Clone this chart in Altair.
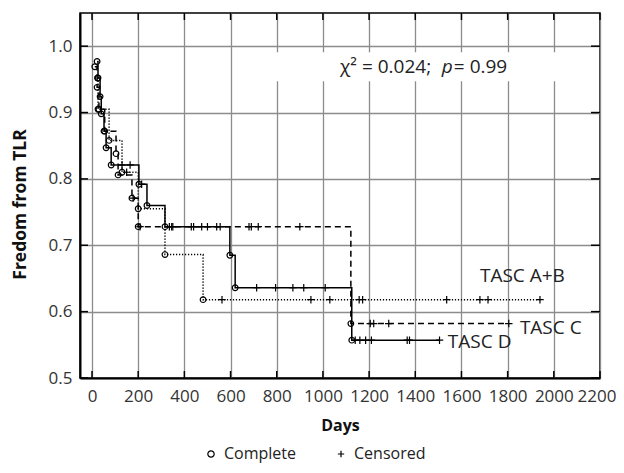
import altair as alt
import pandas as pd

# ---------------- data ----------------
groups = ["TASC A+B", "TASC C", "TASC D"]

ab_event_days = [24, 26, 74, 130, 200, 316, 481]
ab_event_surv = [0.952, 0.905, 0.858, 0.810, 0.755, 0.686, 0.618]
ab_end_day = 1944
ab_cens_days = [150, 563, 948, 1030, 1157, 1172, 1536, 1680, 1715, 1940]

c_event_days = [12, 22, 30, 55, 104, 113, 173, 200, 1121]
c_event_surv = [0.969, 0.938, 0.905, 0.872, 0.838, 0.806, 0.771, 0.728, 0.582]
c_end_day = 1805
c_cens_days = [178, 208, 335, 345, 680, 690, 720, 900, 1205, 1220, 1285, 1805]

d_event_days = [22, 26, 35, 40, 52, 61, 83, 203, 238, 316, 597, 620, 1125]
d_event_surv = [0.977, 0.952, 0.924, 0.898, 0.872, 0.847, 0.821, 0.792, 0.760,
                0.728, 0.685, 0.636, 0.557]
d_end_day = 1505
d_cens_days = [130, 165, 215, 350, 430, 440, 475, 500, 540, 555, 713, 795, 870,
               917, 1010, 1140, 1160, 1185, 1210, 1365, 1375, 1505]

x_ticks = [0, 200, 400, 600, 800, 1000, 1200, 1400, 1600, 1800, 2000, 2200]
y_ticks = [0.5, 0.6, 0.7, 0.8, 0.9, 1.0]

label_text = ["TASC A+B", "TASC C", "TASC D"]
label_day = [1680, 1853, 1541]
label_surv = [0.653, 0.575, 0.555]

ann_text = ["χ² = 0.024;", "= 0.99"]
ann_day = [1074, 1567]
ann_surv = [0.968, 0.968]
ann_italic_text = ["p"]
ann_italic_day = [1515]
ann_italic_surv = [0.968]

# ---------------- build tables ----------------
series = [
    ("TASC A+B", ab_event_days, ab_event_surv, ab_end_day, ab_cens_days),
    ("TASC C", c_event_days, c_event_surv, c_end_day, c_cens_days),
    ("TASC D", d_event_days, d_event_surv, d_end_day, d_cens_days),
]

line_rows, pt_rows = [], []
for g, ed, es, end, cd in series:
    for d, s in zip(ed, es):
        line_rows.append({"group": g, "day": d, "surv": s})
        pt_rows.append({"group": g, "day": d, "surv": s, "kind": "Complete"})
    line_rows.append({"group": g, "day": end, "surv": es[-1]})
    for c in cd:
        lvl = es[0]
        for d, s in zip(ed, es):
            if d <= c:
                lvl = s
        pt_rows.append({"group": g, "day": c, "surv": lvl, "kind": "Censored"})

line_df = pd.DataFrame(line_rows)
pt_df = pd.DataFrame(pt_rows)
lab_df = pd.DataFrame({"text": label_text, "day": label_day, "surv": label_surv})
ann_df = pd.DataFrame({"text": ann_text, "day": ann_day, "surv": ann_surv})
anni_df = pd.DataFrame({"text": ann_italic_text, "day": ann_italic_day, "surv": ann_italic_surv})
xt_df = pd.DataFrame({"t": x_ticks})
yt_df = pd.DataFrame({"t": y_ticks})
bg_df = pd.DataFrame({"x": [700], "x2": [2050], "y": [0.947], "y2": [0.991]})

W, H = 520, 365
FONT = "Open Sans"
xsc = alt.Scale(domain=[-52, 2200], nice=False, zero=False)
ysc = alt.Scale(domain=[0.5, 1.05], nice=False, zero=False)

x_axis = alt.Axis(values=x_ticks, title="Days", format="d", grid=True, labelFontSize=17,
                  labelPadding=10, titlePadding=13, labelFlush=True, labelFlushOffset=16,
                  titleFontSize=16)
y_axis = alt.Axis(values=y_ticks, title="Fredom from TLR", format=".1f", grid=True,
                  labelFontSize=17, labelPadding=8, titlePadding=19, titleFontSize=17.5,
                  titleY=191)


def X(f):
    return alt.X(f, type="quantitative", scale=xsc, axis=x_axis)


def Y(f):
    return alt.Y(f, type="quantitative", scale=ysc, axis=y_axis)


bg = alt.Chart(bg_df).mark_rect(color="white").encode(
    x=X("x"), x2="x2", y=Y("y"), y2="y2",
)

lines = alt.Chart(line_df).mark_line(interpolate="step-after", color="black",
                                     strokeWidth=1.5).encode(
    x=X("day"), y=Y("surv"),
    detail="group:N",
    strokeDash=alt.StrokeDash("group:N", legend=None,
                              scale=alt.Scale(domain=groups,
                                              range=[[1.2, 1.8], [6, 4], [1, 0]])),
)

points = alt.Chart(pt_df).mark_point(color="black", filled=False, strokeWidth=1.2,
                                     opacity=1).encode(
    x=X("day"), y=Y("surv"),
    shape=alt.Shape("kind:N",
                    scale=alt.Scale(domain=["Complete", "Censored"],
                                    range=["circle", "M-1,0H1M0,-1V1"]),
                    legend=alt.Legend(title=None, orient="none", direction="horizontal",
                                      legendX=123, legendY=433, labelFontSize=16,
                                      labelFont=FONT, labelColor="#222",
                                      symbolStrokeColor="black", symbolStrokeWidth=1.2,
                                      symbolSize=40, columnPadding=36, labelOffset=5)),
    size=alt.condition(alt.datum.kind == "Complete", alt.value(32), alt.value(55)),
)

labels = alt.Chart(lab_df).mark_text(align="left", baseline="middle", fontSize=19,
                                     font=FONT, color="#222").encode(
    x=X("day"), y=Y("surv"), text="text:N",
)

ann = alt.Chart(ann_df).mark_text(align="left", baseline="middle", fontSize=19,
                                  font=FONT, color="#222").encode(
    x=X("day"), y=Y("surv"), text="text:N",
)
ann_i = alt.Chart(anni_df).mark_text(align="left", baseline="middle", fontSize=19,
                                     font=FONT, color="#222", fontStyle="italic").encode(
    x=X("day"), y=Y("surv"), text="text:N",
)

rule = dict(color="black", strokeWidth=1.5)
tick_b = alt.Chart(xt_df).mark_rule(**rule).encode(
    x=X("t"), y=alt.value(H), y2=alt.value(H - 7))
tick_t = alt.Chart(xt_df).mark_rule(**rule).encode(
    x=X("t"), y=alt.value(0), y2=alt.value(7))
tick_l = alt.Chart(yt_df).mark_rule(**rule).encode(
    y=Y("t"), x=alt.value(0), x2=alt.value(8))
tick_r = alt.Chart(yt_df).mark_rule(**rule).encode(
    y=Y("t"), x=alt.value(W - 9), x2=alt.value(W))

chart = alt.layer(
    bg, lines, points, labels, ann, ann_i,
    tick_b, tick_t, tick_l, tick_r,
).properties(
    width=W, height=H,
    autosize=alt.AutoSizeParams(type="none"),
    padding={"left": 72, "top": 5, "right": 16, "bottom": 87},
).configure_view(
    stroke="black", strokeWidth=1.5,
).configure_axis(
    gridColor="#8c8c8c", gridWidth=1.3, gridOpacity=1,
    tickSize=0, domainColor="black", domainWidth=2,
    labelFont=FONT, labelColor="#333", titleFont=FONT,
    titleFontWeight="bold", titleColor="#111",
)

chart.save("out.html", embed_options={"renderer": "svg", "actions": False})
